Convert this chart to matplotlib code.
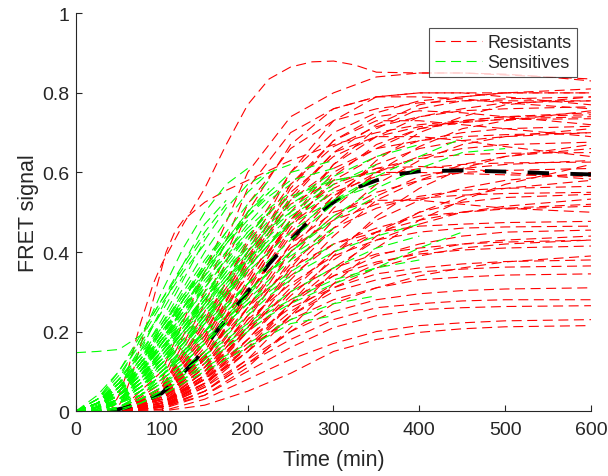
import matplotlib
matplotlib.use("Agg")
import matplotlib.pyplot as plt
import numpy as np

plt.rcParams['font.family'] = ['Liberation Sans', 'DejaVu Sans']

# time grids (min)
t_red = [0, 50, 100, 150, 200, 250, 300, 350, 400, 450, 500, 600]
t_green = [0, 25, 50, 75, 100, 125, 150, 175, 200, 225, 250, 300, 350, 400, 450, 500]

# two early resistant wells, sampled more finely
t_top = [0, 40, 50, 60, 75, 90, 100, 125, 150, 175, 200, 225, 250, 275, 300,
         325, 350, 400, 450, 500, 550, 600]
y_top = [0, 0, 0.04, 0.10, 0.22, 0.32, 0.37, 0.47, 0.56, 0.67, 0.77, 0.835,
         0.865, 0.878, 0.88, 0.87, 0.852, 0.85, 0.85, 0.847, 0.84, 0.83]
t_bend = [0, 45, 55, 65, 80, 95, 105, 115, 125, 150, 175, 200, 250, 300, 350,
          400, 450, 500, 600]
y_bend = [0, 0, 0.03, 0.09, 0.2, 0.32, 0.4, 0.45, 0.48, 0.525, 0.555, 0.58,
          0.63, 0.67, 0.70, 0.72, 0.73, 0.74, 0.75]

# resistant curves, one row per well, values at t_red
red_curves = [
    [0, 0, 0.10, 0.35, 0.60, 0.74, 0.80, 0.84, 0.85, 0.85, 0.845, 0.835],
    [0, 0, 0.08, 0.30, 0.56, 0.70, 0.76, 0.79, 0.80, 0.80, 0.80, 0.80],
    [0, 0, 0.07, 0.27, 0.52, 0.66, 0.73, 0.76, 0.775, 0.78, 0.78, 0.78],
    [0, 0, 0.06, 0.25, 0.50, 0.67, 0.76, 0.79, 0.79, 0.785, 0.775, 0.76],
    [0, 0, 0.04, 0.16, 0.35, 0.53, 0.65, 0.72, 0.77, 0.79, 0.80, 0.81],
    [0, 0, 0.06, 0.22, 0.43, 0.60, 0.70, 0.75, 0.78, 0.79, 0.80, 0.80],
    [0, 0, 0.02, 0.10, 0.24, 0.40, 0.53, 0.63, 0.70, 0.74, 0.77, 0.79],
    [0, 0, 0.04, 0.15, 0.33, 0.50, 0.62, 0.69, 0.74, 0.76, 0.775, 0.78],
    [0, 0, 0.05, 0.19, 0.40, 0.60, 0.73, 0.79, 0.80, 0.80, 0.79, 0.77],
    [0, 0, 0.06, 0.23, 0.42, 0.57, 0.665, 0.715, 0.74, 0.755, 0.76, 0.765],
    [0, 0, 0.015, 0.09, 0.23, 0.38, 0.51, 0.60, 0.665, 0.71, 0.73, 0.755],
    [0, 0, 0.04, 0.15, 0.32, 0.48, 0.60, 0.66, 0.71, 0.73, 0.74, 0.745],
    [0, 0, 0.06, 0.22, 0.40, 0.55, 0.64, 0.69, 0.715, 0.727, 0.733, 0.735],
    [0, 0, 0.04, 0.18, 0.37, 0.56, 0.68, 0.74, 0.755, 0.75, 0.74, 0.72],
    [0, 0, 0.035, 0.14, 0.31, 0.47, 0.58, 0.64, 0.68, 0.70, 0.71, 0.716],
    [0, 0, 0.015, 0.085, 0.21, 0.36, 0.48, 0.57, 0.63, 0.67, 0.69, 0.71],
    [0, 0, 0.055, 0.21, 0.39, 0.53, 0.61, 0.66, 0.68, 0.69, 0.695, 0.70],
    [0, 0, 0.045, 0.18, 0.38, 0.57, 0.68, 0.73, 0.73, 0.72, 0.71, 0.69],
    [0, 0, 0.035, 0.135, 0.29, 0.44, 0.54, 0.60, 0.64, 0.66, 0.67, 0.676],
    [0, 0, 0.012, 0.08, 0.20, 0.33, 0.44, 0.53, 0.58, 0.62, 0.64, 0.66],
    [0, 0, 0.04, 0.17, 0.36, 0.54, 0.65, 0.69, 0.69, 0.68, 0.665, 0.64],
    [0, 0, 0.05, 0.19, 0.34, 0.47, 0.55, 0.59, 0.61, 0.62, 0.624, 0.626],
    [0, 0, 0.03, 0.12, 0.26, 0.40, 0.49, 0.55, 0.58, 0.60, 0.605, 0.61],
    [0, 0, 0.012, 0.07, 0.18, 0.30, 0.40, 0.48, 0.53, 0.56, 0.58, 0.60],
    [0, 0, 0.035, 0.15, 0.32, 0.48, 0.57, 0.61, 0.615, 0.61, 0.60, 0.583],
    [0, 0, 0.03, 0.11, 0.24, 0.37, 0.46, 0.51, 0.54, 0.555, 0.56, 0.565],
    [0, 0, 0.045, 0.17, 0.30, 0.41, 0.48, 0.52, 0.535, 0.543, 0.547, 0.55],
    [0, 0, 0.01, 0.065, 0.16, 0.27, 0.36, 0.43, 0.47, 0.50, 0.515, 0.533],
    [0, 0, 0.025, 0.10, 0.22, 0.34, 0.42, 0.46, 0.49, 0.50, 0.508, 0.515],
    [0, 0, 0.03, 0.13, 0.28, 0.42, 0.50, 0.53, 0.53, 0.52, 0.51, 0.50],
    [0, 0, 0.04, 0.14, 0.26, 0.36, 0.42, 0.45, 0.465, 0.47, 0.474, 0.477],
    [0, 0, 0.03, 0.12, 0.23, 0.32, 0.39, 0.43, 0.45, 0.46, 0.463, 0.465],
    [0, 0, 0.01, 0.07, 0.16, 0.25, 0.32, 0.37, 0.40, 0.42, 0.43, 0.44],
    [0, 0, 0.03, 0.11, 0.21, 0.30, 0.36, 0.395, 0.41, 0.42, 0.425, 0.43],
    [0, 0, 0.02, 0.10, 0.20, 0.28, 0.34, 0.375, 0.395, 0.405, 0.41, 0.415],
    [0, 0, 0.01, 0.05, 0.12, 0.20, 0.27, 0.31, 0.34, 0.36, 0.375, 0.39],
    [0, 0, 0.02, 0.09, 0.18, 0.26, 0.31, 0.345, 0.36, 0.37, 0.376, 0.38],
    [0, 0, 0.015, 0.07, 0.15, 0.24, 0.30, 0.33, 0.35, 0.357, 0.362, 0.365],
    [0, 0, 0.02, 0.08, 0.16, 0.23, 0.28, 0.31, 0.33, 0.337, 0.342, 0.345],
    [0, 0, 0.01, 0.06, 0.13, 0.20, 0.25, 0.28, 0.295, 0.303, 0.307, 0.31],
    [0, 0, 0.005, 0.05, 0.12, 0.18, 0.23, 0.26, 0.27, 0.277, 0.28, 0.28],
    [0, 0, 0.01, 0.04, 0.10, 0.16, 0.21, 0.24, 0.255, 0.26, 0.263, 0.265],
    [0, 0, 0, 0.03, 0.08, 0.13, 0.17, 0.20, 0.215, 0.222, 0.227, 0.23],
    [0, 0, 0, 0.015, 0.05, 0.095, 0.15, 0.18, 0.198, 0.207, 0.212, 0.215],
    [0, 0, 0.05, 0.20, 0.38, 0.52, 0.58, 0.60, 0.60, 0.597, 0.594, 0.59],
    [0, 0, 0.02, 0.09, 0.20, 0.31, 0.40, 0.45, 0.48, 0.50, 0.51, 0.52],
    [0, 0, 0.03, 0.13, 0.29, 0.45, 0.56, 0.61, 0.635, 0.645, 0.648, 0.65],
    [0, 0, 0.025, 0.11, 0.26, 0.42, 0.54, 0.62, 0.66, 0.68, 0.69, 0.70],
    [0, 0, 0.03, 0.13, 0.29, 0.46, 0.59, 0.67, 0.71, 0.725, 0.735, 0.74],
    [0, 0, 0.03, 0.13, 0.30, 0.48, 0.62, 0.71, 0.76, 0.78, 0.785, 0.79],
    [0, 0, 0.02, 0.08, 0.18, 0.29, 0.38, 0.45, 0.50, 0.525, 0.537, 0.545],
    [0, 0, 0.02, 0.09, 0.21, 0.35, 0.46, 0.54, 0.59, 0.61, 0.62, 0.63],
    [0, 0, 0.02, 0.08, 0.17, 0.27, 0.34, 0.39, 0.42, 0.44, 0.45, 0.455],
    [0, 0, 0.01, 0.05, 0.13, 0.24, 0.35, 0.44, 0.50, 0.54, 0.56, 0.58],
    [0, 0, 0.005, 0.04, 0.11, 0.21, 0.32, 0.41, 0.48, 0.53, 0.57, 0.62],
    [0, 0, 0.01, 0.06, 0.15, 0.27, 0.39, 0.49, 0.56, 0.61, 0.64, 0.67],
    [0, 0, 0.02, 0.07, 0.15, 0.24, 0.31, 0.36, 0.39, 0.41, 0.42, 0.43],
]

# sensitive curves, values at t_green (each stops where the recording stops)
green_curves = [
    [0, 0.02, 0.08, 0.18, 0.30, 0.41, 0.50, 0.57, 0.61],
    [0, 0.01, 0.06, 0.15, 0.26, 0.37, 0.47, 0.53],
    [0, 0.03, 0.10, 0.19, 0.28, 0.36, 0.44],
    [0.147, 0.15, 0.155, 0.19, 0.28, 0.37, 0.45, 0.52],
    [0, 0.02, 0.07, 0.14, 0.23, 0.33, 0.43, 0.51, 0.57, 0.60],
    [0, 0.01, 0.05, 0.12, 0.21, 0.30, 0.38, 0.45],
    [0, 0.02, 0.06, 0.13, 0.22, 0.31, 0.40, 0.48, 0.55, 0.60, 0.62],
    [0, 0.015, 0.05, 0.11, 0.19, 0.28, 0.36],
    [0, 0.02, 0.07, 0.16, 0.25, 0.34],
    [0, 0.01, 0.04, 0.10, 0.18, 0.26, 0.34, 0.42, 0.49],
    [0, 0.03, 0.09, 0.17, 0.25],
    [0, 0.02, 0.05, 0.10, 0.17, 0.25, 0.33],
    [0, 0.01, 0.03, 0.07, 0.13, 0.20, 0.28, 0.36],
    [0, 0.02, 0.06, 0.12, 0.19, 0.27],
    [0, 0.03, 0.08, 0.14, 0.21, 0.28, 0.35, 0.42, 0.48],
    [0, 0.01, 0.04, 0.09, 0.17, 0.26, 0.35, 0.43, 0.50, 0.55],
    [0, 0.02, 0.06, 0.11, 0.17, 0.23],
    [0, 0.01, 0.03, 0.06, 0.10, 0.16, 0.23, 0.30, 0.37, 0.43],
    [0, 0.04, 0.10, 0.18, 0.27, 0.35, 0.42],
    [0, 0.02, 0.07, 0.13, 0.20, 0.27, 0.34, 0.40, 0.46, 0.51, 0.55],
    [0, 0.01, 0.04, 0.09, 0.15, 0.22, 0.29, 0.36, 0.43, 0.49],
    [0, 0, 0.03, 0.08, 0.14, 0.20, 0.27, 0.33, 0.39],
    [0, 0.01, 0.03, 0.07, 0.12, 0.18, 0.24, 0.30, 0.36, 0.42, 0.47],
    [0, 0, 0.02, 0.06, 0.11, 0.17, 0.23, 0.29, 0.35, 0.40, 0.45, 0.53, 0.59],
    [0, 0.01, 0.04, 0.08, 0.13, 0.19, 0.25, 0.31],
    [0, 0.005, 0.03, 0.07, 0.12, 0.17, 0.22, 0.27, 0.32, 0.37],
    [0, 0.01, 0.05, 0.10, 0.16, 0.22, 0.28, 0.34, 0.40, 0.46, 0.51, 0.58],
    [0, 0, 0.02, 0.05, 0.09, 0.14, 0.20, 0.26, 0.32],
    [0, 0.01, 0.04, 0.09, 0.14, 0.20, 0.26],
    [0, 0.005, 0.025, 0.06, 0.10, 0.15, 0.20, 0.25, 0.30, 0.35, 0.40, 0.48, 0.54],
    [0, 0, 0.01, 0.03, 0.06, 0.10, 0.14, 0.19, 0.24, 0.29, 0.33],
    [0, 0, 0.01, 0.04, 0.08, 0.12, 0.17, 0.22, 0.27, 0.31, 0.35, 0.42],
    [0, 0, 0.005, 0.02, 0.05, 0.08, 0.12, 0.16, 0.20, 0.24, 0.27, 0.32, 0.36, 0.41, 0.45],
    [0, 0, 0.01, 0.03, 0.05, 0.08, 0.11, 0.14, 0.17, 0.20, 0.23, 0.27, 0.29],
    [0, 0, 0, 0.02, 0.04, 0.07, 0.10, 0.13, 0.16, 0.19, 0.22, 0.24],
    [0, 0, 0.01, 0.03, 0.06, 0.09, 0.13, 0.17, 0.21, 0.25, 0.28, 0.33, 0.36, 0.38],
    [0, 0, 0.01, 0.04, 0.07, 0.11, 0.15, 0.20, 0.25, 0.30, 0.34, 0.40, 0.44, 0.47],
    [0, 0, 0.02, 0.05, 0.09, 0.14, 0.20, 0.26, 0.32, 0.38, 0.43, 0.52, 0.59, 0.64, 0.686],
    [0, 0, 0.01, 0.04, 0.08, 0.12, 0.17, 0.23, 0.29, 0.35, 0.40, 0.49, 0.56, 0.61, 0.65, 0.66],
    [0, 0.01, 0.04, 0.09, 0.15, 0.21, 0.28, 0.35, 0.42, 0.48, 0.53, 0.60],
    [0, 0.01, 0.05, 0.11, 0.18, 0.26, 0.34, 0.42, 0.49, 0.55, 0.60, 0.63],
    [0, 0, 0.02, 0.06, 0.12, 0.19, 0.26, 0.33, 0.40, 0.46, 0.50],
    [0, 0.01, 0.03, 0.06, 0.10, 0.14, 0.19, 0.24, 0.29],
    [0, 0.005, 0.02, 0.05, 0.09, 0.13, 0.18, 0.23, 0.28, 0.33, 0.38, 0.45],
    [0, 0.01, 0.05, 0.12, 0.20, 0.28, 0.36, 0.43, 0.49, 0.54, 0.58, 0.61],
    [0, 0.01, 0.04, 0.10, 0.17, 0.24, 0.31, 0.38, 0.44, 0.50, 0.54, 0.58, 0.60],
    [0, 0.01, 0.05, 0.11, 0.18, 0.25, 0.31],
    [0, 0.02, 0.06, 0.10, 0.15],
    [0, 0.01, 0.04, 0.08, 0.14, 0.21, 0.29, 0.37, 0.44, 0.50],
    [0, 0, 0.02, 0.07, 0.13, 0.20, 0.27, 0.34],
    [0, 0.02, 0.05, 0.09, 0.14, 0.20, 0.26, 0.32, 0.38, 0.44],
    [0, 0.03, 0.07, 0.12, 0.18, 0.24, 0.30, 0.36, 0.41],
    [0, 0.01, 0.02, 0.05, 0.09, 0.14, 0.20, 0.27],
    [0, 0.02, 0.08, 0.15, 0.22, 0.29, 0.36, 0.43, 0.50, 0.56],
    [0, 0.01, 0.03, 0.08, 0.15, 0.23, 0.31, 0.38, 0.45],
    [0, 0.005, 0.02, 0.04, 0.08, 0.12, 0.17, 0.22, 0.27, 0.32],
    [0, 0.01, 0.04, 0.07, 0.11, 0.15, 0.20, 0.25, 0.30, 0.35, 0.39, 0.46],
    [0, 0.02, 0.05, 0.11, 0.19, 0.28, 0.37, 0.45, 0.52, 0.58],
    [0, 0.03, 0.06, 0.10, 0.16, 0.22, 0.29],
    [0, 0.01, 0.03, 0.06, 0.11, 0.17, 0.24, 0.31, 0.38, 0.44, 0.49, 0.56],
    [0, 0.02, 0.07, 0.12, 0.19, 0.26, 0.33, 0.39, 0.45, 0.50],
    [0, 0.01, 0.05, 0.10, 0.16, 0.23],
    [0, 0, 0.01, 0.04, 0.09, 0.15, 0.22, 0.29, 0.36, 0.42, 0.47],
    [0, 0.02, 0.04, 0.08, 0.12, 0.17, 0.23, 0.29, 0.35],
    [0, 0.01, 0.06, 0.13, 0.21, 0.29, 0.37, 0.44],
    [0, 0.02, 0.05, 0.10, 0.17, 0.24, 0.32, 0.40, 0.47, 0.53, 0.57],
    [0, 0.01, 0.03, 0.07, 0.12, 0.18, 0.25, 0.32, 0.39, 0.45, 0.50, 0.57, 0.62],
    [0, 0.005, 0.03, 0.08, 0.14, 0.21, 0.28, 0.35, 0.41, 0.47, 0.52, 0.59, 0.64, 0.67],
    [0, 0.02, 0.06, 0.13, 0.20, 0.26, 0.32, 0.38],
    [0, 0.01, 0.04, 0.09, 0.13, 0.18, 0.24, 0.30, 0.36, 0.42, 0.48, 0.55],
    [0, 0.01, 0.02, 0.04, 0.07, 0.10, 0.14, 0.18, 0.22, 0.26, 0.30, 0.36, 0.41, 0.44],
    [0, 0.02, 0.06, 0.11, 0.16, 0.21, 0.27, 0.33, 0.38, 0.43, 0.47, 0.53, 0.57],
]

# average curve
mean_t = [40, 60, 80, 100, 120, 140, 160, 180, 200, 225, 250, 275, 300,
          325, 350, 375, 400, 450, 500, 550, 600]
mean_y = [0, 0.01, 0.025, 0.045, 0.085, 0.13, 0.19, 0.245, 0.30, 0.37, 0.43,
          0.485, 0.525, 0.56, 0.58, 0.595, 0.603, 0.605, 0.602, 0.598, 0.595]

fig = plt.figure(figsize=(6.08, 4.77), dpi=100)
ax = fig.add_axes([0.125, 0.136, 0.847, 0.834])

red = (1, 0, 0)
green = (0, 1, 0)
dash = (9, 5)

ax.plot(t_top, y_top, color=red, lw=0.8, dashes=dash, label='Resistants')
ax.plot(t_bend, y_bend, color=red, lw=0.8, dashes=dash)
for y in red_curves:
    ax.plot(t_red, y, color=red, lw=0.8, dashes=dash)
ax.plot(mean_t, mean_y, color='k', lw=2.8, dashes=(5.5, 5.5))
for i, y in enumerate(green_curves):
    ax.plot(t_green[:len(y)], y, color=green, lw=0.8, dashes=dash,
            label='Sensitives' if i == 0 else None)

ax.set_xlim(0, 600)
ax.set_ylim(0, 1)
ax.set_xticks(range(0, 601, 100))
ax.set_yticks([0, 0.2, 0.4, 0.6, 0.8, 1])
ax.set_yticklabels(['0', '0.2', '0.4', '0.6', '0.8', '1'])
ax.spines['top'].set_visible(False)
ax.spines['right'].set_visible(False)
for s in ('left', 'bottom'):
    ax.spines[s].set_color('#262626')
    ax.spines[s].set_linewidth(0.8)
ax.tick_params(direction='in', length=4, width=0.8, colors='#262626',
               labelsize=14)
ax.tick_params(axis='x', pad=7)
ax.tick_params(axis='y', pad=5)
ax.set_xlabel('Time (min)', fontsize=15.5, color='#262626', labelpad=8)
ax.set_ylabel('FRET signal', fontsize=15.5, color='#262626', labelpad=2)

leg = ax.legend(loc='upper right', bbox_to_anchor=(0.972, 0.962), fontsize=13,
                frameon=True, fancybox=False, edgecolor='#262626',
                handlelength=2.6, handletextpad=0.3, borderpad=0.3,
                labelspacing=0.2, borderaxespad=0)
leg.get_frame().set_linewidth(0.8)
for t in leg.get_texts():
    t.set_color('#262626')

fig.savefig('out.png', dpi=100)
